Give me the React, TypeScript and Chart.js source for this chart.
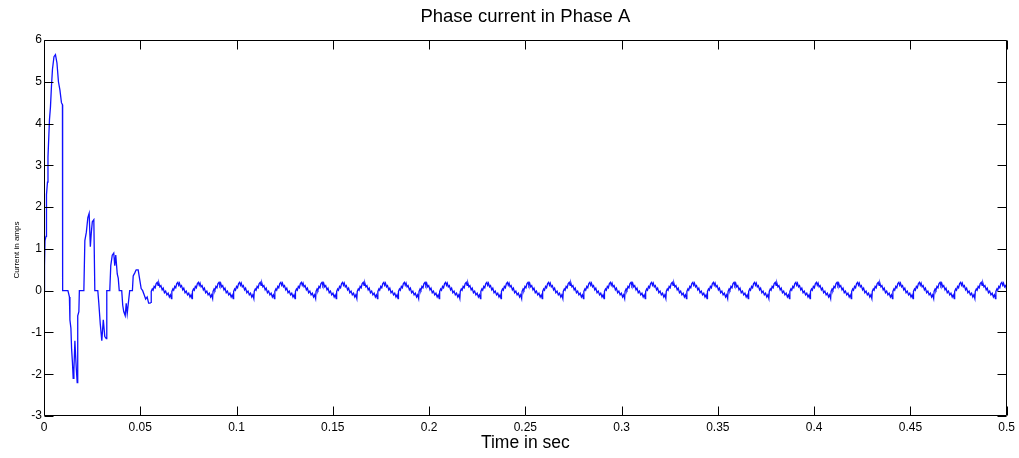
import React, { useEffect, useRef } from 'react';
import { Chart, registerables } from 'chart.js';

Chart.register(...registerables);

// ---------- text ----------
const chartTitle = 'Phase current in Phase A';
const xAxisTitle = 'Time in sec';
const yAxisTitle = 'Current in amps';

// ---------- axes ----------
const xTicks = [0, 0.05, 0.1, 0.15, 0.2, 0.25, 0.3, 0.35, 0.4, 0.45, 0.5];
const yTicks = [-3, -2, -1, 0, 1, 2, 3, 4, 5, 6];

// ---------- start-up transient ----------
const transientTime = [
  0, 0.00026, 0.00052, 0.00104, 0.00129, 0.00181, 0.00207, 0.00259, 0.00285, 0.00336,
  0.00388, 0.0044, 0.00518, 0.00595, 0.00673, 0.0075, 0.00828, 0.00906, 0.00958, 0.00963,
  0.00973, 0.01242, 0.0132, 0.01346, 0.01398, 0.01434, 0.01475, 0.01517, 0.01553, 0.01605,
  0.01641, 0.01682, 0.01724, 0.01744, 0.0176, 0.01811, 0.01837, 0.0207, 0.02122, 0.022,
  0.02277, 0.02345, 0.02407, 0.02459, 0.0251, 0.02588, 0.0264, 0.02795, 0.02847, 0.02924,
  0.03002, 0.0308, 0.03157, 0.03235, 0.03261, 0.03416, 0.03468, 0.03545, 0.03623, 0.03675,
  0.03727, 0.03804, 0.03856, 0.03908, 0.04037, 0.04089, 0.04141, 0.04218, 0.0427, 0.04322,
  0.04451, 0.04591, 0.04633, 0.0471, 0.04788, 0.04891, 0.04943, 0.05047, 0.05124, 0.05202,
  0.0528, 0.05357, 0.05435, 0.05512, 0.05564,
];
const transientCurrent = [
  0, 0.6, 1.2, 1.3, 2.3, 2.6, 3.2, 3.8, 4.1, 4.4,
  4.9, 5.3, 5.6, 5.65, 5.45, 5.0, 4.8, 4.5, 4.45, 3.3,
  0, 0, -0.15, -0.7, -0.9, -1.4, -1.7, -2.1, -1.9, -1.2,
  -1.55, -1.9, -2.2, -2.1, -0.6, -0.5, 0, 0, 1.2, 1.4,
  1.75, 1.85, 1.05, 1.4, 1.65, 1.7, 0, 0, -0.3, -0.8,
  -1.2, -0.7, -1.1, -1.15, 0, 0, 0.6, 0.85, 0.9, 0.6,
  0.85, 0.4, 0.3, 0, 0, -0.35, -0.5, -0.6, -0.3, -0.55,
  0, 0, 0.35, 0.42, 0.5, 0.5, 0.35, 0.05, 0, -0.1,
  -0.2, -0.15, -0.3, -0.3, -0.28,
];

// ---------- steady-state ripple: one cycle ----------
const cyclePeriod = 0.0107;
const firstCycleStart = 0.0557;
const cyclePhase = [0, 0.05, 0.09, 0.14, 0.19, 0.24, 0.29, 0.33, 0.37, 0.42, 0.47, 0.53, 0.58, 0.64, 0.7, 0.76, 0.82, 0.88, 0.93, 0.98];
const cycleCurrent = [-0.02, 0.04, 0.01, 0.1, 0.07, 0.17, 0.2, 0.13, 0.18, 0.09, 0.12, 0.02, 0.06, -0.05, -0.01, -0.1, -0.06, -0.15, -0.1, -0.19];

const FONT = "'Liberation Sans', Arial, Helvetica, sans-serif";

function buildPoints() {
  const pts: { x: number; y: number }[] = [];
  transientTime.forEach((t, i) => pts.push({ x: t, y: transientCurrent[i] }));
  for (let k = 0; ; k++) {
    const start = firstCycleStart + k * cyclePeriod;
    if (start > 0.51) break;
    cyclePhase.forEach((p, i) => pts.push({ x: start + p * cyclePeriod, y: cycleCurrent[i] }));
  }
  return pts;
}

const framePlugin = {
  id: 'matlabFrame',
  afterDatasetsDraw(chart: any) {
    const { ctx, chartArea: a, scales } = chart;
    const x = scales.x;
    const y = scales.y;
    const L = Math.round(a.left) + 0.5;
    const R = Math.round(a.right) - 0.5;
    const T = Math.round(a.top) + 0.5;
    const B = Math.round(a.bottom) - 0.5;
    const tl = 9;
    ctx.save();
    ctx.strokeStyle = '#000';
    ctx.lineWidth = 1;
    ctx.beginPath();
    ctx.rect(L, T, R - L, B - T);
    xTicks.forEach((v) => {
      const px = Math.round(x.getPixelForValue(v)) + 0.5;
      ctx.moveTo(px, B);
      ctx.lineTo(px, B - tl);
      ctx.moveTo(px, T);
      ctx.lineTo(px, T + tl);
    });
    yTicks.forEach((v) => {
      const py = Math.round(y.getPixelForValue(v)) + 0.5;
      ctx.moveTo(L, py);
      ctx.lineTo(L + tl, py);
      ctx.moveTo(R, py);
      ctx.lineTo(R - tl, py);
    });
    ctx.stroke();

    ctx.fillStyle = '#000';
    ctx.textAlign = 'center';
    ctx.textBaseline = 'middle';
    ctx.font = `18.5px ${FONT}`;
    ctx.fillText(chartTitle, (a.left + a.right) / 2, 17);
    ctx.font = `17.5px ${FONT}`;
    ctx.fillText(xAxisTitle, (a.left + a.right) / 2, 443);
    ctx.translate(17, 250);
    ctx.rotate(-Math.PI / 2);
    ctx.font = `8px ${FONT}`;
    ctx.fillText(yAxisTitle, 0, 0);
    ctx.restore();
  },
};

export default function App() {
  const ref = useRef<HTMLCanvasElement | null>(null);
  useEffect(() => {
    document.body.style.margin = '0';
    if (!ref.current) return;
    const chart = new Chart(ref.current, {
      type: 'line',
      data: {
        datasets: [
          {
            data: buildPoints(),
            borderColor: '#1010ff',
            borderWidth: 1.3,
            pointRadius: 0,
            tension: 0,
            fill: false,
            clip: 0,
          } as any,
        ],
      },
      options: {
        animation: false,
        responsive: false,
        maintainAspectRatio: false,
        layout: { padding: { top: 40, right: 9, left: 0, bottom: 0 } },
        plugins: { legend: { display: false }, title: { display: false }, tooltip: { enabled: false } },
        scales: {
          x: {
            type: 'linear',
            min: 0,
            max: 0.5,
            grid: { display: false, drawTicks: false },
            border: { display: false },
            afterFit: (s: any) => { s.height = 42; },
            afterBuildTicks: (s: any) => { s.ticks = xTicks.map((v) => ({ value: v })); },
            ticks: {
              autoSkip: false,
              maxRotation: 0,
              padding: 4,
              color: '#000',
              font: { family: FONT, size: 12 },
              callback: (v: any) => String(+Number(v).toFixed(2)),
            },
          },
          y: {
            type: 'linear',
            min: -3,
            max: 6,
            grid: { display: false, drawTicks: false },
            border: { display: false },
            afterFit: (s: any) => { s.width = 44; },
            afterBuildTicks: (s: any) => { s.ticks = yTicks.map((v) => ({ value: v })); },
            ticks: {
              autoSkip: false,
              padding: 2,
              color: '#000',
              font: { family: FONT, size: 12 },
              callback: (v: any) => String(v),
            },
          },
        },
      },
      plugins: [framePlugin],
    });
    return () => chart.destroy();
  }, []);
  return (
    <div style={{ width: 1019, height: 458, background: '#fff' }}>
      <canvas ref={ref} width={1019} height={458} />
    </div>
  );
}
